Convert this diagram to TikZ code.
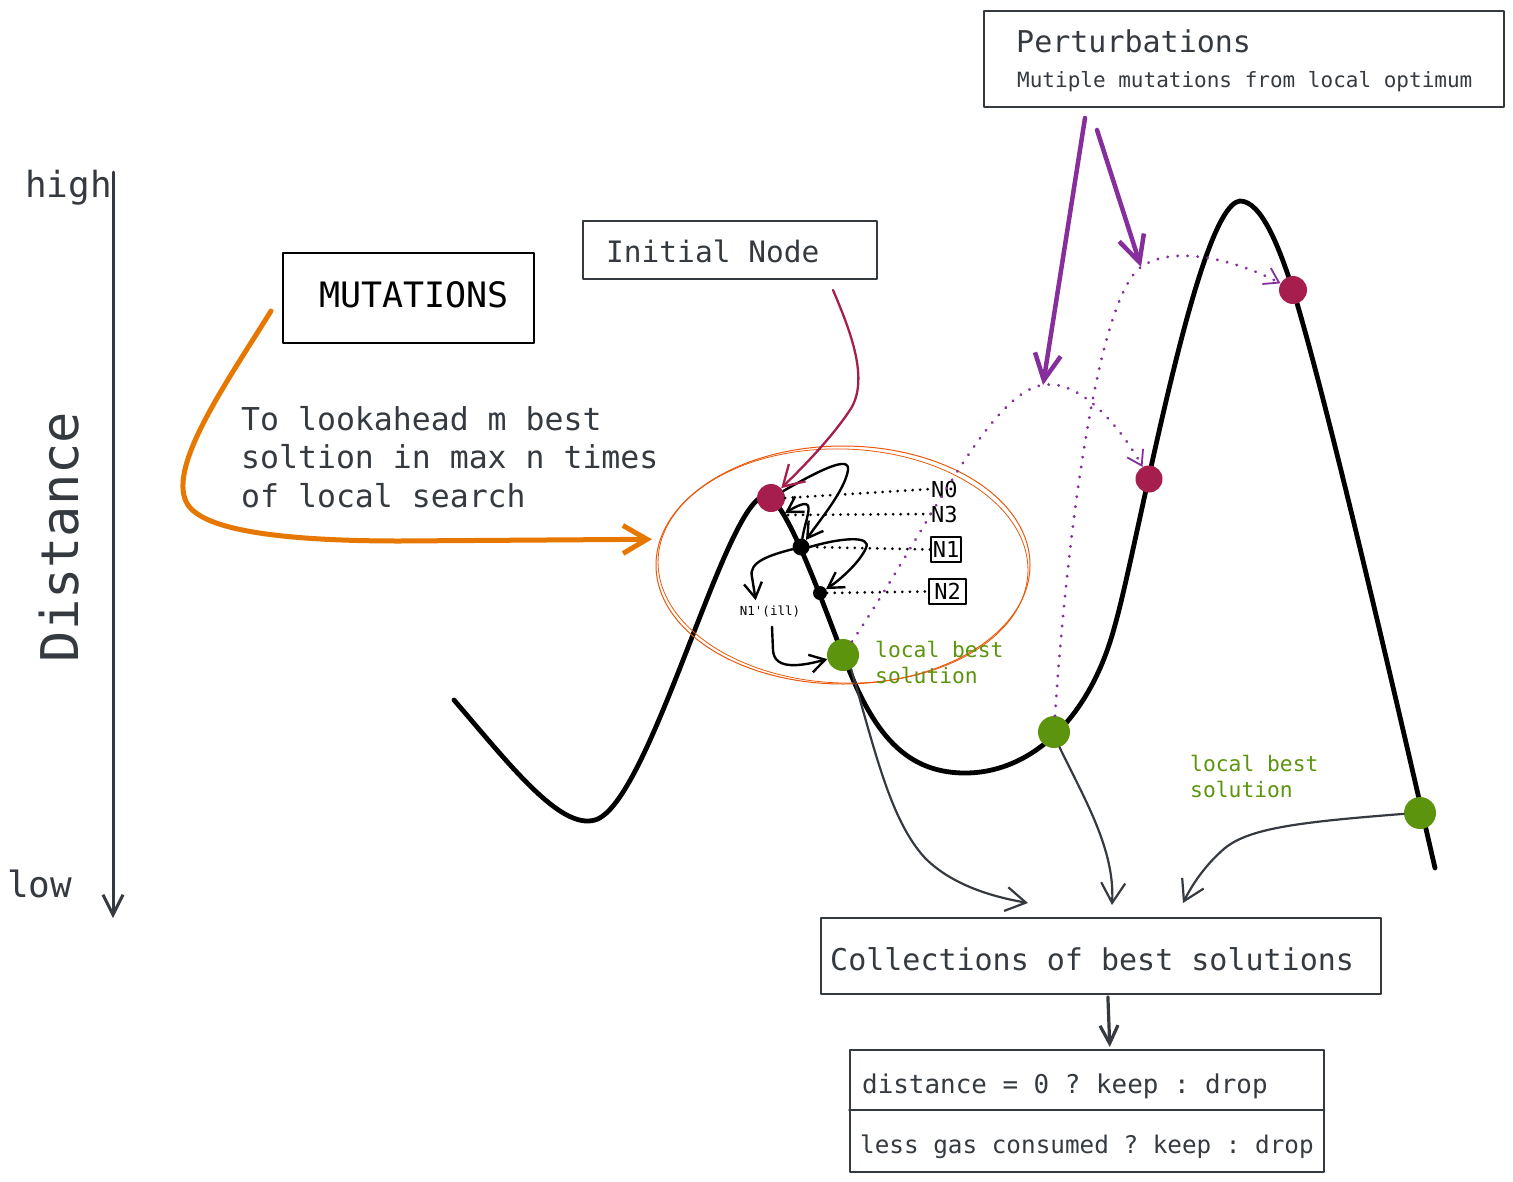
\documentclass[tikz,border=0pt]{standalone}
\usepackage{fontspec}
\setmonofont{DejaVu Sans Mono}
\usetikzlibrary{arrows.meta,shapes.geometric,calc}
\definecolor{ink}{HTML}{343A40}
\definecolor{crim}{HTML}{A61E4D}
\definecolor{leaf}{HTML}{5C940D}
\definecolor{grape}{HTML}{862E9C}
\definecolor{tang}{HTML}{E67700}
\definecolor{rust}{HTML}{E8590C}
\newcommand{\tsz}[2]{\fontsize{#1}{#2}\selectfont}
\begin{document}
\begin{tikzpicture}[x=1pt,y=-1pt,line cap=round,line join=round,
  txt/.style={inner sep=0pt,text=ink},
  frame/.style={draw=ink,line width=1.8pt,rectangle,inner sep=0pt,anchor=north west},
  blob/.style={circle,inner sep=0pt,minimum size=#1},
  tree/.style={draw=black,line width=2.4pt,-{Straight Barb[length=15pt,width=18pt]}},
  blackdots/.style={draw=black,line width=3pt,dash pattern=on 0.01pt off 7.5pt},
  purpledots/.style={draw=grape,line width=3.2pt,dash pattern=on 0.01pt off 10pt,
     -{Straight Barb[length=14pt,width=18pt,line width=1.8pt]}},
  grayarrow/.style={draw=ink,line width=2.2pt,-{Straight Barb[length=20pt,width=24pt]}}]
\useasboundingbox (0,0) rectangle (1513,1181);

% ---------- axis ----------
\coordinate (axT) at (113,172);
\coordinate (axB) at (113,918);
\draw[ink,line width=3pt,-{Straight Barb[length=20pt,width=20pt]}] (axT) -- (axB);
\node[txt,anchor=base west,font=\ttfamily\tsz{36}{40}] (high) at (25,197) {high};
\node[txt,anchor=base west,font=\ttfamily\tsz{36}{40}] (low) at (7,897) {low};
\node[txt,rotate=90,font=\ttfamily\tsz{52}{56}] (dist) at (59,537) {Distance};

% ---------- landscape ----------
\draw[black,line width=4.8pt] (454,700)
  .. controls (510,765) and (560,830) .. (595,820)
  .. controls (650,804) and (725,500) .. (765,496)
  .. controls (785,494) and (825,610) .. (843,655)
  .. controls (870,725) and (900,773) .. (965,773)
  .. controls (1030,773) and (1090,720) .. (1115,625)
  .. controls (1138,545) and (1197,205) .. (1240,201)
  .. controls (1262,201) and (1280,250) .. (1293,290)
  .. controls (1330,410) and (1410,760) .. (1435,868);

% ---------- zone ellipse ----------
\node[ellipse,draw=rust,line width=1pt,minimum width=374pt,minimum height=238pt] (zone) at (843,565) {};
\draw[rust,line width=0.8pt,rotate around={-2:(843,566)}] (843,566) ellipse [x radius=185pt,y radius=117pt];

% ---------- dots ----------
\node[blob=28pt,fill=crim] (n0) at (771,498) {};
\node[blob=17pt,fill=black] (n1) at (801,547) {};
\node[blob=14pt,fill=black] (n2) at (820,593) {};
\coordinate (n3) at (785,513);
\node[blob=32pt,fill=leaf] (g1) at (843,655) {};
\node[blob=32pt,fill=leaf] (g2) at (1054,732) {};
\node[blob=32pt,fill=leaf] (g3) at (1420,813) {};
\node[blob=27pt,fill=crim] (c2) at (1149,479) {};
\node[blob=28pt,fill=crim] (c3) at (1293,290) {};

% ---------- labels N ----------
\node[inner sep=0pt,anchor=base west,font=\ttfamily\tsz{22}{24}] (lN0) at (931,497) {N0};
\node[inner sep=0pt,anchor=base west,font=\ttfamily\tsz{22}{24}] (lN3) at (931,522) {N3};
\node[draw=black,line width=1.5pt,inner sep=0pt,minimum width=30pt,minimum height=25pt,font=\ttfamily\tsz{22}{24}] (lN1) at (946,549.5) {N1};
\node[draw=black,line width=1.5pt,inner sep=0pt,minimum width=37pt,minimum height=25pt,font=\ttfamily\tsz{22}{24}] (lN2) at (947.5,591.5) {N2};
\node[inner sep=0pt,font=\ttfamily\tsz{12.5}{14}] (ill) at (770,612) {N1'(ill)};
\coordinate (illT) at ($(ill.north west)+(16,-6)$);

\draw[blackdots] (n0.east) -- (lN0.west);
\draw[blackdots] (n3) ++(3,2) -- (lN3.west);
\draw[blackdots] (n1.east) -- (lN1.west);
\draw[blackdots] (n2.east) -- (lN2.west);

% ---------- tree arrows ----------
\draw[tree] (n0) .. controls (820,470) and (850,455) .. (848,470) .. controls (845,490) and (820,520) .. (n1);
\draw[tree] (n1) .. controls (806,515) and (820,492) .. (n3);
\draw[tree] (n1.east) .. controls (840,538) and (872,535) .. (866,548) .. controls (860,562) and (840,580) .. (n2);
\draw[tree] (n1) .. controls (770,555) and (748,562) .. (752,577) -- (illT);
\draw[tree] ($(ill.south)+(2,9)$) -- (773,650) .. controls (774,672) and (805,665) .. (g1);

\node[txt,text=leaf,anchor=base west,font=\ttfamily\tsz{21.3}{26}] (lb1) at (875,657) {local best};
\node[txt,text=leaf,anchor=base west,font=\ttfamily\tsz{21.3}{26}] (lb1b) at (875,683) {solution};
\node[txt,text=leaf,anchor=base west,font=\ttfamily\tsz{21.3}{26}] (lb2) at (1190,771) {local best};
\node[txt,text=leaf,anchor=base west,font=\ttfamily\tsz{21.3}{26}] (lb2b) at (1190,797) {solution};

% ---------- MUTATIONS ----------
\node[frame,draw=black,minimum width=251pt,minimum height=90pt] (mutbox) at (282,252) {};
\node[inner sep=0pt,anchor=base west,font=\ttfamily\tsz{35}{40}] (mutT) at (319,307) {MUTATIONS};
\node[txt,anchor=north west,align=left,font=\ttfamily\tsz{31.5}{38.5}] (desc) at (241,406)
  {To lookahead m best\\soltion in max n times\\of local search};
\coordinate (mutA) at (271,311);
\draw[tang,line width=5pt,-{Straight Barb[length=24pt,width=28pt]}] (mutA)
  .. controls (225,385) and (165,470) .. (188,505)
  .. controls (205,530) and (280,541) .. (400,541) -- ($(zone.172)+(-8,0)$);

% ---------- Initial node ----------
\node[frame,minimum width=294pt,minimum height=58pt] (initbox) at (582,220) {};
\node[txt,anchor=base west,font=\ttfamily\tsz{29.5}{34}] (initT) at (606,262) {Initial Node};
\coordinate (initA) at (833,290);
\draw[crim,line width=2.3pt,-{Straight Barb[length=20pt,width=24pt]}] (initA)
  .. controls (850,330) and (870,380) .. (850,410) .. controls (830,440) and (800,470) .. (n0);

% ---------- Perturbations ----------
\node[frame,minimum width=520pt,minimum height=96pt] (pert) at (983,10) {};
\node[txt,anchor=base west,font=\ttfamily\tsz{30}{34}] (pertT) at (1016,52) {Perturbations};
\node[txt,anchor=base west,font=\ttfamily\tsz{21}{25}] (pertS) at (1017,87) {Mutiple mutations from local optimum};
\coordinate (pA) at (1085,118);
\coordinate (pB) at (1097,130);
\coordinate (pk1) at (1043,385);
\coordinate (pk2) at (1141,267);
\draw[purpledots] (g1) .. controls (930,525) and (990,392) .. (pk1) .. controls (1085,378) and (1128,440) .. (c2);
\draw[purpledots] (g2) .. controls (1065,560) and (1095,300) .. (pk2) .. controls (1175,243) and (1240,262) .. (c3);
\draw[grape,line width=4.5pt,-{Straight Barb[length=26pt,width=26pt]}] (pA) -- (pk1);
\draw[grape,line width=4.5pt,-{Straight Barb[length=26pt,width=26pt]}] (pB) -- (pk2);

% ---------- collections ----------
\node[frame,minimum width=560pt,minimum height=76pt] (coll) at (820,917) {};
\node[txt,anchor=base west,font=\ttfamily\tsz{30}{34}] (collT) at (830,970) {Collections of best solutions};
\coordinate (t1) at (1028,903);
\coordinate (t2) at (1112,905);
\coordinate (t3) at (1183,903);
\draw[grayarrow] (g1.300) .. controls (875,750) and (890,820) .. (925,858) .. controls (955,888) and (1000,898) .. (t1);
\draw[grayarrow] (g2.290) .. controls (1085,800) and (1115,850) .. (t2);
\draw[grayarrow] (g3.183) .. controls (1300,822) and (1250,828) .. (1225,848) .. controls (1205,865) and (1192,885) .. (t3);

% ---------- result ----------
\node[frame,line width=1.6pt,minimum width=474pt,minimum height=122pt] (res) at (849,1049) {};
\draw[ink,line width=1.6pt] (res.west |- 0,1110) -- (res.east |- 0,1110);
\node[txt,anchor=base west,font=\ttfamily\tsz{25.9}{30}] (r1) at (862,1093) {distance = 0 ? keep : drop};
\node[txt,anchor=base west,font=\ttfamily\tsz{24.3}{28}] (r2) at (860,1153) {less gas consumed ? keep : drop};
\draw[ink,line width=3.2pt,-{Straight Barb[length=18pt,width=18pt]}] ($(coll.south)+(7,2)$) -- ($(res.north)+(23,-2)$);
\end{tikzpicture}
\end{document}
